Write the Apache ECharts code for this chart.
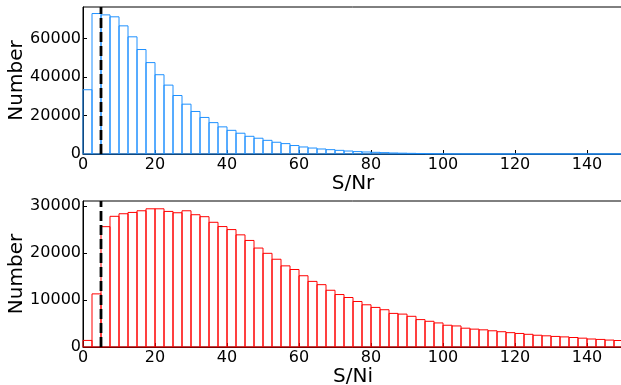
<!DOCTYPE html>
<html>
<head>
<meta charset="utf-8">
<script src="https://cdn.jsdelivr.net/npm/echarts@6/dist/echarts.min.js"></script>
<style>
  html, body { margin: 0; padding: 0; background: #fff; }
  #main { width: 621px; height: 385px; }
</style>
</head>
<body>
<div id="main"></div>
<script>
// left edge of every histogram bin
const binStarts = [
  0, 2.5, 5, 7.5, 10, 12.5, 15, 17.5, 20, 22.5, 25, 27.5, 30, 32.5, 35, 37.5, 40, 42.5, 45, 47.5,
  50, 52.5, 55, 57.5, 60, 62.5, 65, 67.5, 70, 72.5, 75, 77.5, 80, 82.5, 85, 87.5, 90, 92.5, 95, 97.5,
  100, 102.5, 105, 107.5, 110, 112.5, 115, 117.5, 120, 122.5, 125, 127.5, 130, 132.5, 135, 137.5, 140, 142.5, 145, 147.5
]
const binWidth = 2.5
const threshold = 5

// counts, S/Nr
const countsNr = [
  33400, 73000, 72300, 71300, 66600, 60900, 54300, 47500, 41200, 35800,
  30400, 25900, 22100, 19000, 16300, 14100, 12300, 10800, 9200, 8200,
  7100, 6100, 5400, 4400, 3650, 3100, 2600, 2250, 1900, 1550,
  1250, 1050, 870, 700, 530, 430, 340, 260, 180, 120,
  70, 40, 20, 10, 0, 0, 0, 0, 0, 0,
  0, 0, 0, 0, 0, 0, 0, 0, 0, 0
]
// counts, S/Ni
const countsNi = [
  1400, 11300, 25600, 27800, 28350, 28630, 28980, 29400, 29400, 28840,
  28560, 28980, 28140, 27720, 26530, 25620, 24980, 23860, 22670, 21050,
  19930, 18670, 17260, 16490, 15160, 13960, 13260, 12070, 11160, 10530,
  9680, 8980, 8420, 7930, 7150, 7000, 6530, 5830, 5470, 5120,
  4630, 4480, 4000, 3800, 3650, 3450, 3250, 3050, 2880, 2700,
  2500, 2380, 2250, 2150, 2020, 1880, 1700, 1610, 1470, 1380
]
const xTicks = [0, 20, 40, 60, 80, 100, 120, 140]

const chart = echarts.init(document.getElementById('main'), null, { renderer: 'canvas' })
const FONT = 'DejaVu Sans'

const histSeries = (idx, counts, color) => ({
  type: 'custom',
  xAxisIndex: idx,
  yAxisIndex: idx,
  data: binStarts.map((b, i) => [b, counts[i]]),
  renderItem: (params, api) => {
    const x0 = api.value(0)
    const top = api.coord([x0, api.value(1)])
    const bot = api.coord([x0 + binWidth, 0])
    return {
      type: 'rect',
      shape: { x: top[0], y: top[1], width: bot[0] - top[0], height: bot[1] - top[1] },
      style: { fill: 'none', stroke: color, lineWidth: 1 }
    }
  },
  z: 2
})

const cutLine = (idx, yTop) => ({
  type: 'line',
  xAxisIndex: idx,
  yAxisIndex: idx,
  data: [[threshold, 0], [threshold, yTop]],
  symbol: 'none',
  silent: true,
  lineStyle: { color: '#000', width: 2.8, type: [10, 4] },
  z: 5
})

const xAxis = (idx, name) => ({
  type: 'value',
  gridIndex: idx,
  min: 0,
  max: 150,
  interval: 20,
  name,
  nameLocation: 'middle',
  nameGap: 20,
  nameMoveOverlap: false,
  nameTextStyle: { fontFamily: FONT, fontSize: 20, color: '#000' },
  axisLine: { show: true, lineStyle: { color: '#000', width: 1 } },
  axisTick: { show: true, inside: true, length: 4, lineStyle: { color: '#000' } },
  axisLabel: {
    fontFamily: FONT, fontSize: 16, color: '#000', margin: 3, showMaxLabel: false,
    formatter: v => (xTicks.includes(v) ? String(v) : '')
  },
  splitLine: { show: false }
})

const yAxis = (idx, max, interval) => ({
  type: 'value',
  gridIndex: idx,
  min: 0,
  max,
  interval,
  name: 'Number',
  nameLocation: 'middle',
  nameGap: 56,
  nameMoveOverlap: false,
  nameRotate: 90,
  nameTextStyle: { fontFamily: FONT, fontSize: 20, color: '#000' },
  axisLine: { show: true, lineStyle: { color: '#000', width: 1 } },
  axisTick: { show: true, inside: true, length: 4, lineStyle: { color: '#000' } },
  axisLabel: {
    fontFamily: FONT, fontSize: 16, color: '#000', margin: 2, showMaxLabel: false,
    formatter: v => String(v)
  },
  splitLine: { show: false }
})

const topMax = 76400
const botMax = 31060

chart.setOption({
  animation: false,
  backgroundColor: '#fff',
  grid: [
    { left: 83, top: 7, width: 540, height: 147, outerBoundsMode: 'none', containLabel: false, show: true, borderColor: '#000', borderWidth: 1, backgroundColor: 'transparent' },
    { left: 83, top: 201, width: 540, height: 146, outerBoundsMode: 'none', containLabel: false, show: true, borderColor: '#000', borderWidth: 1, backgroundColor: 'transparent' }
  ],
  xAxis: [xAxis(0, 'S/Nr'), xAxis(1, 'S/Ni')],
  yAxis: [yAxis(0, topMax, 20000), yAxis(1, botMax, 10000)],
  series: [
    histSeries(0, countsNr, '#1e90ff'),
    histSeries(1, countsNi, '#ff0000'),
    cutLine(0, topMax),
    cutLine(1, botMax)
  ]
})
</script>
</body>
</html>
